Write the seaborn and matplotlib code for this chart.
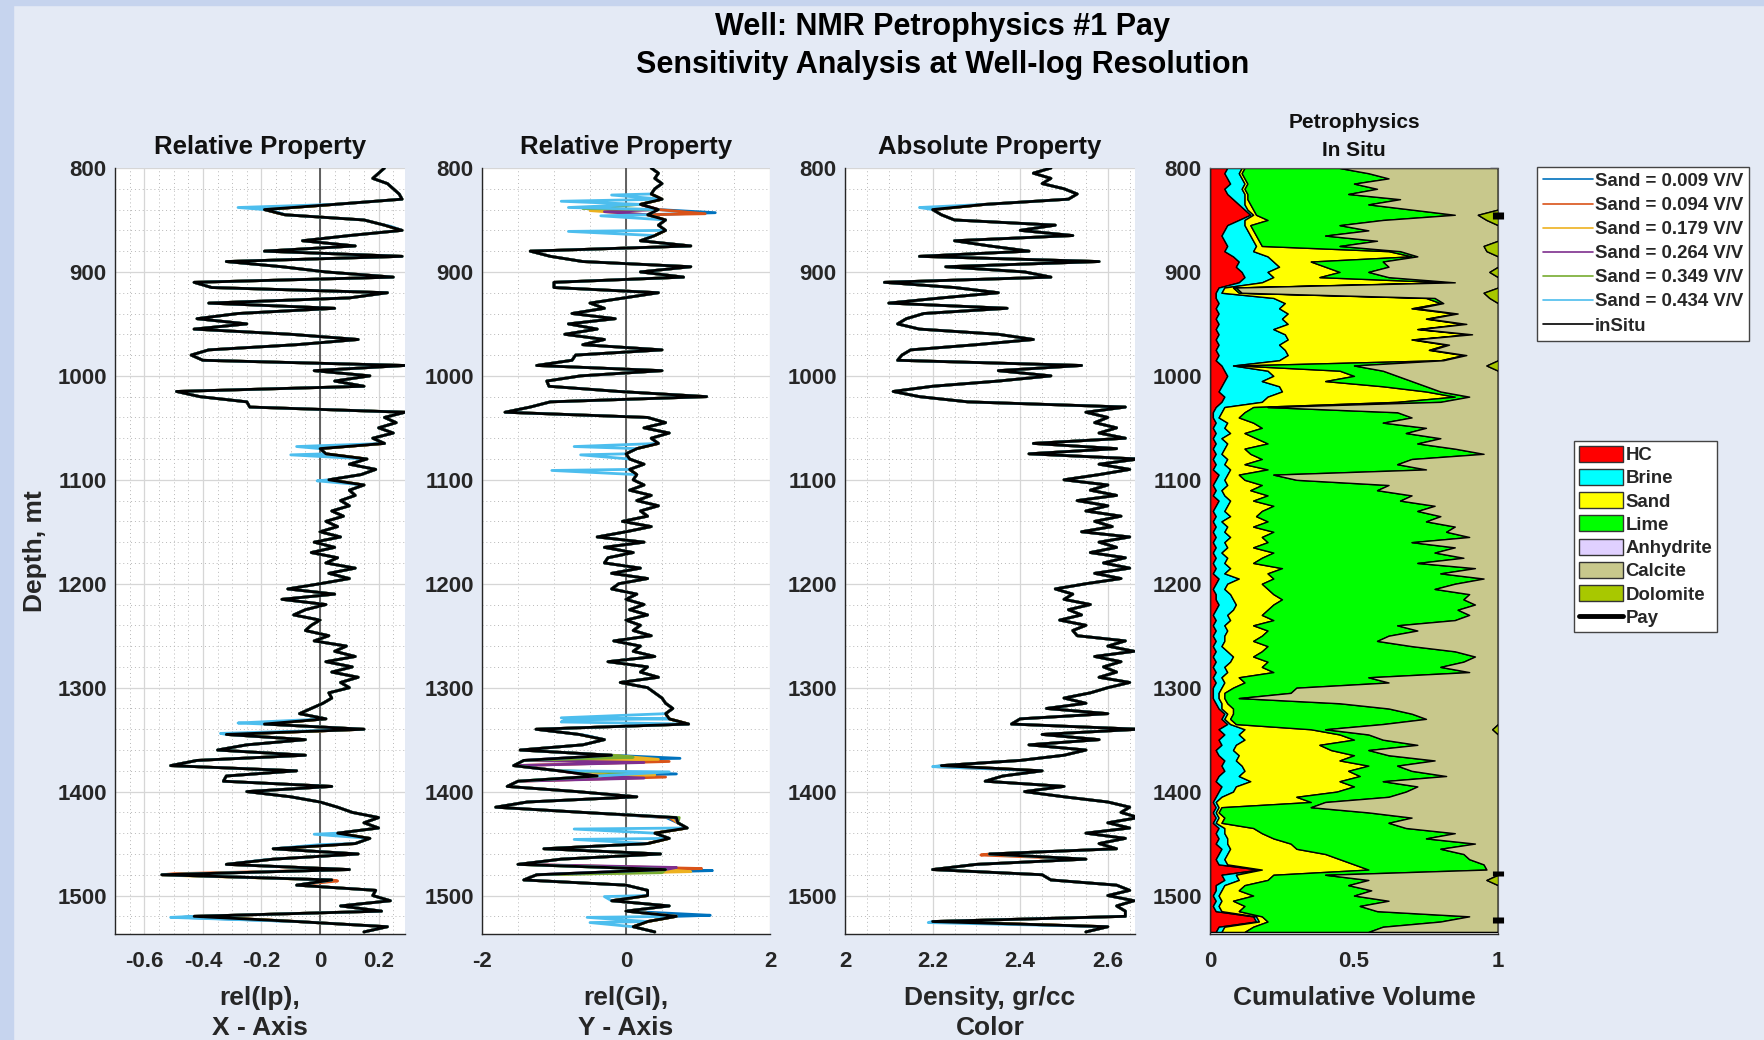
import numpy as np
import pandas as pd
import matplotlib
matplotlib.use("Agg")
import matplotlib.pyplot as plt
import seaborn as sns
from matplotlib.lines import Line2D
from matplotlib.patches import Patch, Rectangle
from matplotlib.ticker import MultipleLocator, FixedLocator

# ---------------- DATA ----------------
depth = np.arange(800, 1536, 5)  # sampling depths, m

sand_labels = ["Sand = 0.009 V/V", "Sand = 0.094 V/V", "Sand = 0.179 V/V",
               "Sand = 0.264 V/V", "Sand = 0.349 V/V", "Sand = 0.434 V/V"]

ip_insitu = [0.22,0.20,0.18,0.23,0.25,0.27,0.28,0.05,-0.19,-0.12,
             0.15,0.22,0.28,0.10,-0.06,0.12,-0.19,0.28,-0.32,-0.13,
             0.02,0.25,-0.43,-0.37,0.23,0.10,-0.38,0.05,-0.28,-0.42,
             -0.25,-0.43,-0.10,0.13,-0.08,-0.38,-0.44,-0.40,0.29,-0.02,
             0.17,0.05,0.15,-0.49,-0.41,-0.25,-0.24,0.29,0.22,0.26,
             0.20,0.25,0.18,0.22,0.00,0.02,0.16,0.10,0.19,0.14,
             0.03,0.15,0.10,0.12,0.07,0.10,0.04,0.08,0.02,0.06,
             0.00,0.07,-0.02,0.05,-0.03,0.06,0.02,0.12,0.03,0.10,
             0.00,-0.11,0.05,-0.13,0.02,-0.05,-0.09,0.00,-0.03,-0.05,
             0.03,-0.02,0.09,0.05,0.12,0.02,0.11,0.04,0.13,0.07,
             0.10,0.03,0.04,0.01,-0.03,-0.07,0.02,-0.19,0.15,-0.32,
             -0.05,-0.25,-0.35,-0.05,-0.42,-0.51,-0.08,-0.32,-0.33,0.04,
             -0.25,-0.10,0.00,0.06,0.11,0.20,0.15,0.20,0.06,0.17,
             0.12,-0.16,0.13,-0.16,-0.32,0.10,-0.54,0.04,-0.08,0.19,
             0.18,0.24,0.07,0.21,-0.43,-0.08,0.23,0.15]

# sensitivity curves: where they differ from the in-situ curve (depth: value)
ip_sens = {
    "Sand = 0.009 V/V": {1521: -0.47},
    "Sand = 0.094 V/V": {1479: -0.50, 1486: 0.06},
    "Sand = 0.179 V/V": {1481: -0.46},
    "Sand = 0.264 V/V": {},
    "Sand = 0.349 V/V": {},
    "Sand = 0.434 V/V": {838: -0.28, 843: -0.14, 856: 0.24, 1068: -0.08, 1076: -0.10,
                         1101: -0.01, 1334: -0.28, 1344: -0.34, 1441: -0.02, 1451: 0.00,
                         1466: -0.20, 1521: -0.51},
}

gi_insitu = [0.35,0.45,0.40,0.50,0.40,0.35,0.50,0.20,0.45,0.30,
             0.55,0.45,0.55,0.40,0.20,0.90,-1.33,-1.05,-0.60,0.90,
             0.20,0.80,-1.00,-1.00,0.45,-0.03,-0.50,-0.30,-0.75,-0.15,
             -0.80,-0.40,-0.85,-0.30,-0.60,0.50,-0.70,-0.75,-1.24,0.50,
             -0.63,-1.10,-1.07,-0.10,1.12,-1.05,-1.33,-1.68,0.30,0.55,
             0.25,0.60,0.35,0.45,0.15,0.00,0.05,0.25,0.05,0.15,
             0.10,0.25,0.05,0.35,0.15,0.45,0.20,0.30,-0.05,0.35,
             0.00,-0.40,0.25,-0.30,0.10,-0.25,-0.30,0.20,-0.20,0.30,
             -0.10,-0.20,0.15,0.00,0.25,0.05,0.30,0.00,0.20,0.10,
             0.35,-0.17,0.20,0.10,0.40,-0.25,0.30,0.20,0.45,-0.08,
             0.30,0.40,0.50,0.55,0.65,0.55,0.60,0.87,-1.25,-0.65,
             -0.30,-0.60,-1.47,-0.20,-1.42,-1.56,-0.93,-0.40,-1.50,-1.65,
             -0.68,0.15,-1.37,-1.81,-0.60,0.70,0.72,0.85,0.40,0.60,
             0.30,-1.14,0.48,-0.90,-1.50,0.55,-1.24,-1.42,0.00,0.30,
             0.30,-0.20,0.60,0.00,0.70,0.30,0.10,0.40]

gi_sens = {
    "Sand = 0.009 V/V": {843: 1.24, 1368: 0.75, 1383: 0.70, 1425: 0.56, 1476: 1.20, 1519: 1.17},
    "Sand = 0.094 V/V": {844: 1.10, 1371: 0.60, 1386: 0.55, 1425: 0.60, 1474: 1.05},
    "Sand = 0.179 V/V": {841: -0.50, 1369: 0.45, 1384: 0.40, 1425: 0.64, 1477: 0.90},
    "Sand = 0.264 V/V": {842: -0.30, 1372: 0.25, 1387: 0.25, 1425: 0.68, 1473: 0.70},
    "Sand = 0.349 V/V": {839: -0.60, 1367: 0.10, 1382: 0.10, 1425: 0.74, 1478: 0.50},
    "Sand = 0.434 V/V": {826: -0.20, 832: -0.90, 838: -0.80, 846: -0.35, 861: -0.80,
                         1068: -0.72, 1076: -0.63, 1091: -1.03, 1329: -0.90, 1331: -0.85,
                         1333: -0.90, 1346: -0.55, 1381: 0.60, 1436: -0.72, 1446: -0.72,
                         1501: -0.30, 1521: -0.54, 1526: -0.50},
}

rho_insitu = [2.47,2.43,2.47,2.45,2.50,2.53,2.51,2.32,2.20,2.22,
              2.25,2.48,2.40,2.52,2.25,2.33,2.42,2.17,2.58,2.23,
              2.41,2.47,2.09,2.25,2.35,2.22,2.10,2.37,2.18,2.14,
              2.12,2.17,2.35,2.43,2.30,2.15,2.13,2.12,2.54,2.35,
              2.47,2.35,2.20,2.11,2.17,2.28,2.64,2.55,2.60,2.57,
              2.62,2.58,2.64,2.43,2.62,2.42,2.67,2.58,2.65,2.58,
              2.50,2.60,2.56,2.62,2.53,2.60,2.55,2.63,2.57,2.61,
              2.54,2.65,2.58,2.62,2.56,2.64,2.59,2.65,2.57,2.63,
              2.55,2.48,2.52,2.50,2.56,2.51,2.54,2.49,2.55,2.52,
              2.53,2.64,2.60,2.66,2.57,2.63,2.59,2.62,2.58,2.65,
              2.60,2.56,2.50,2.55,2.46,2.60,2.40,2.38,2.67,2.45,
              2.58,2.42,2.55,2.50,2.40,2.22,2.45,2.36,2.32,2.50,
              2.41,2.50,2.60,2.65,2.63,2.67,2.60,2.65,2.55,2.64,
              2.58,2.62,2.33,2.55,2.30,2.20,2.45,2.47,2.62,2.65,
              2.60,2.66,2.62,2.64,2.64,2.20,2.60,2.55]

rho_sens = {
    "Sand = 0.009 V/V": {},
    "Sand = 0.094 V/V": {1376: 2.21, 1461: 2.31},
    "Sand = 0.179 V/V": {},
    "Sand = 0.264 V/V": {},
    "Sand = 0.349 V/V": {},
    "Sand = 0.434 V/V": {838: 2.17, 1376: 2.20, 1526: 2.19},
}

# cumulative volume tops (V/V)
hc_top = [.06,.05,.06,.07,.05,.06,.08,.10,.12,.14,
          .10,.06,.05,.04,.05,.06,.05,.08,.10,.09,
          .11,.12,.10,.03,.02,.02,.03,.02,.03,.02,
          .03,.02,.03,.02,.03,.02,.03,.02,.04,.05,
          .06,.05,.04,.03,.05,.04,.02,.01,.01,.02,
          .01,.02,.01,.02,.01,.02,.01,.02,.01,.03,
          .02,.01,.02,.01,.03,.02,.01,.02,.01,.02,
          .01,.02,.01,.02,.01,.02,.01,.02,.01,.03,
          .02,.01,.02,.02,.03,.02,.01,.02,.01,.02,
          .01,.02,.01,.02,.01,.02,.01,.02,.01,.02,
          .01,.01,.01,.02,.03,.05,.04,.06,.03,.05,
          .03,.04,.02,.03,.05,.04,.05,.03,.02,.04,
          .03,.02,.01,.02,.01,.02,.01,.03,.02,.03,
          .02,.04,.03,.02,.03,.17,.04,.05,.02,.02,
          .01,.02,.01,.02,.15,.16,.03,.02]
brine_top = [.11,.10,.11,.12,.11,.12,.12,.12,.13,.15,
             .12,.12,.13,.14,.15,.16,.15,.20,.22,.24,
             .20,.22,.18,.05,.04,.22,.26,.24,.27,.25,
             .27,.22,.26,.27,.24,.26,.27,.24,.08,.20,
             .22,.18,.24,.25,.20,.18,.05,.04,.03,.06,
             .05,.07,.04,.06,.05,.04,.06,.05,.07,.06,
             .05,.06,.04,.05,.07,.06,.05,.07,.04,.06,
             .05,.07,.05,.06,.04,.06,.05,.07,.05,.10,
             .06,.05,.07,.08,.09,.08,.06,.07,.05,.06,
             .05,.05,.04,.06,.08,.07,.05,.06,.04,.05,
             .04,.03,.03,.04,.04,.06,.05,.07,.12,.10,
             .12,.09,.08,.10,.09,.11,.12,.10,.14,.09,
             .08,.04,.02,.03,.02,.03,.02,.05,.05,.06,
             .06,.07,.06,.05,.06,.18,.09,.10,.05,.04,
             .03,.04,.03,.04,.16,.17,.05,.04]
sand_top = [.12,.11,.12,.13,.12,.13,.13,.14,.15,.16,
            .20,.14,.15,.16,.17,.18,.62,.70,.35,.40,
            .45,.38,.83,.08,.10,.75,.80,.70,.85,.75,
            .88,.72,.90,.70,.82,.76,.88,.80,.10,.45,
            .50,.40,.60,.75,.85,.65,.15,.12,.10,.15,
            .18,.12,.16,.20,.12,.14,.18,.12,.20,.10,
            .12,.18,.14,.20,.15,.22,.18,.16,.20,.15,
            .22,.18,.20,.15,.22,.18,.15,.25,.20,.22,
            .18,.20,.22,.25,.22,.20,.18,.22,.15,.20,
            .18,.15,.20,.18,.15,.20,.18,.22,.10,.12,
            .08,.05,.05,.06,.08,.08,.07,.09,.35,.45,
            .50,.38,.42,.50,.45,.55,.48,.52,.45,.50,
            .44,.30,.35,.04,.03,.05,.04,.15,.18,.22,
            .28,.30,.40,.45,.50,.55,.22,.20,.12,.10,
            .15,.08,.12,.10,.18,.20,.15,.12]
lime_top = [.45,.55,.62,.50,.58,.48,.66,.55,.70,.85,
            .60,.45,.55,.40,.58,.45,.66,.72,.60,.62,
            .55,.62,.85,.09,.11,.78,.81,.72,.86,.76,
            .89,.73,.91,.71,.83,.77,.89,.81,.50,.60,
            .65,.70,.75,.80,.90,.80,.20,.65,.70,.60,
            .75,.68,.80,.72,.85,.95,.70,.65,.75,.22,
            .30,.62,.58,.70,.66,.78,.72,.80,.75,.85,
            .82,.90,.70,.85,.78,.88,.72,.92,.80,.95,
            .85,.78,.90,.88,.92,.86,.90,.85,.65,.72,
            .62,.58,.70,.85,.92,.88,.80,.90,.55,.62,
            .30,.28,.10,.45,.62,.70,.75,.60,.40,.55,
            .60,.72,.55,.62,.78,.65,.70,.82,.60,.72,
            .68,.62,.40,.35,.55,.70,.62,.68,.85,.75,
            .92,.80,.88,.90,.95,.96,.40,.55,.48,.56,
            .50,.62,.52,.58,.90,.80,.60,.55]
# depths where dolomite shows at the right edge, and where calcite stops there
dolomite_depths = [845, 850, 875, 880, 900, 920, 925, 990, 1340, 1485]
calcite_top_at = [.93, .96, .95, .96, .97, .95, .97, .96, .98, .96]
pay_intervals = [(842, 849), (1476, 1481), (1521, 1526)]

lith_labels = ["HC", "Brine", "Sand", "Lime", "Anhydrite", "Calcite", "Dolomite"]

# ---------------- STYLE ----------------
BG = "#E4EAF5"
STRIP = "#C6D4EE"
sand_colors = ["#0072BD", "#D95319", "#EDB120", "#7E2F8E", "#77AC30", "#4DBEEE"]
lith_colors = ["#FF0000", "#00FFFF", "#FFFF00", "#00FF00", "#E0D0FF", "#C8C88C", "#A8C800"]

sns.set_style("white")
plt.rcParams["font.family"] = ["Liberation Sans", "DejaVu Sans"]
plt.rcParams["font.weight"] = "bold"
plt.rcParams["axes.unicode_minus"] = False

W, H = 1765, 1040
fig = plt.figure(figsize=(W / 100, H / 100), dpi=100, facecolor=BG)
fig.patches.append(Rectangle((0, 0), 13 / W, 1, transform=fig.transFigure, color=STRIP, zorder=-5))
fig.patches.append(Rectangle((0, 1 - 5 / H), 1, 5 / H, transform=fig.transFigure, color=STRIP, zorder=-5))

def px_axes(x0, x1, y0, y1):
    return fig.add_axes([x0 / W, 1 - y1 / H, (x1 - x0) / W, (y1 - y0) / H])

ax1 = px_axes(115, 405, 168, 934)
ax2 = px_axes(482, 770, 168, 934)
ax3 = px_axes(845, 1135, 168, 934)
ax4 = px_axes(1210, 1498, 168, 934)

TICK_FS = 16
LAB_FS = 19
YMAX = 1537

def series_frame(base, sens):
    rows = []
    for lab in sand_labels:
        vals = dict(zip(depth.tolist(), base))
        vals.update(sens.get(lab, {}))
        for d in sorted(vals):
            rows.append({"depth": d, "value": vals[d], "series": lab})
    return pd.DataFrame(rows)

def style_axes(ax, xlim, xticks, xlabels, xminor, zero_line=False, box=False):
    ax.set_facecolor("white")
    ax.set_xlim(*xlim)
    ax.set_ylim(YMAX, 800)
    ax.xaxis.set_major_locator(FixedLocator(xticks))
    ax.set_xticklabels(xlabels)
    ax.yaxis.set_major_locator(FixedLocator(list(range(800, 1501, 100))))
    ax.set_yticklabels([str(v) for v in range(800, 1501, 100)])
    if xminor:
        ax.xaxis.set_minor_locator(MultipleLocator(xminor))
        ax.yaxis.set_minor_locator(MultipleLocator(20))
        ax.grid(True, which="major", color="#D6D6D6", lw=0.9, ls="-", zorder=0)
        ax.grid(True, which="minor", color="#B8B8B8", lw=0.7, ls=(0, (1, 3)), zorder=0)
    ax.set_axisbelow(True)
    ax.tick_params(which="major", direction="in", length=6, width=1, colors="#262626",
                   labelsize=TICK_FS, labelcolor="#262626")
    ax.tick_params(axis="x", which="major", pad=12)
    ax.tick_params(axis="y", which="major", pad=6)
    ax.tick_params(which="minor", length=0)
    for lab in ax.get_xticklabels() + ax.get_yticklabels():
        lab.set_fontweight("bold")
    for s in ["left", "bottom"]:
        ax.spines[s].set_color("#262626")
        ax.spines[s].set_linewidth(1.0)
    for s in ["top", "right"]:
        ax.spines[s].set_visible(box)
        ax.spines[s].set_color("#555555")
    if zero_line:
        ax.axvline(0, color="#555555", lw=1.3, zorder=1.5)
    ax.set_xlabel("")
    ax.set_ylabel("")

def draw_log(ax, base, sens):
    df = series_frame(base, sens)
    sns.lineplot(data=df, x="value", y="depth", hue="series", hue_order=sand_labels,
                 palette=sand_colors, orient="y", sort=False, estimator=None,
                 legend=False, lw=2.0, ax=ax, zorder=2)
    sns.lineplot(x=base, y=depth, orient="y", sort=False, estimator=None,
                 color="black", lw=2.0, ax=ax, zorder=3)

draw_log(ax1, ip_insitu, ip_sens)
style_axes(ax1, (-0.7, 0.29), [-0.6, -0.4, -0.2, 0, 0.2], ["-0.6", "-0.4", "-0.2", "0", "0.2"], 0.05, zero_line=True)

draw_log(ax2, gi_insitu, gi_sens)
style_axes(ax2, (-2, 2), [-2, 0, 2], ["-2", "0", "2"], 0.5, zero_line=True)

draw_log(ax3, rho_insitu, rho_sens)
style_axes(ax3, (2, 2.662), [2, 2.2, 2.4, 2.6], ["2", "2.2", "2.4", "2.6"], 0.05)

# ---- panel 4: cumulative volumes ----
calcite_top = np.ones(len(depth))
for d, c in zip(dolomite_depths, calcite_top_at):
    calcite_top[depth.tolist().index(d)] = c
zeros = np.zeros(len(depth))
layers = [zeros, np.array(hc_top), np.array(brine_top), np.array(sand_top),
          np.array(lime_top), np.array(lime_top), calcite_top, np.ones(len(depth))]
for i, col in enumerate(lith_colors):
    lo, hi = layers[i], layers[i + 1]
    if np.allclose(lo, hi):
        continue
    ax4.fill_betweenx(depth, lo, hi, facecolor=col, edgecolor="black", lw=1.0, zorder=2)
for top, bot in pay_intervals:
    ax4.plot([1.0, 1.0], [top, bot], color="black", lw=8, solid_capstyle="butt",
             clip_on=False, zorder=5)
style_axes(ax4, (0, 1), [0, 0.5, 1], ["0", "0.5", "1"], None, box=True)
ax4.tick_params(which="major", right=True, direction="in")
ax4.tick_params(axis="y", which="major", labelright=False)

# ---- titles and labels ----
title_kw = dict(fontsize=18.5, fontweight="bold", color="#111111", pad=10)
ax1.set_title("Relative Property", **title_kw)
ax2.set_title("Relative Property", **title_kw)
ax3.set_title("Absolute Property", **title_kw)
ax4.set_title("Petrophysics\nIn Situ", fontsize=15, fontweight="bold", color="#111111",
              pad=9, linespacing=1.55)

xl_kw = dict(fontsize=LAB_FS, fontweight="bold", color="#262626", linespacing=1.32, labelpad=10)
ax1.set_xlabel("rel(Ip),\nX - Axis", **xl_kw)
ax2.set_xlabel("rel(GI),\nY - Axis", **xl_kw)
ax3.set_xlabel("Density, gr/cc\nColor", **xl_kw)
ax4.set_xlabel("Cumulative Volume", **xl_kw)

fig.text(35 / W, 1 - 551 / H, "Depth, mt", rotation=90, ha="center", va="center",
         fontsize=LAB_FS, fontweight="bold", color="#262626")

fig.text(943 / W, 1 - 27 / H, "Well: NMR Petrophysics #1 Pay", ha="center", va="center",
         fontsize=22, fontweight="bold", color="black")
fig.text(943 / W, 1 - 65 / H, "Sensitivity Analysis at Well-log Resolution", ha="center",
         va="center", fontsize=22, fontweight="bold", color="black")

# ---- legends ----
h1 = [Line2D([0], [0], color=c, lw=1.2) for c in sand_colors] + [Line2D([0], [0], color="black", lw=1.2)]
leg1 = fig.legend(h1, sand_labels + ["inSitu"], loc="upper left",
                  bbox_to_anchor=(1537 / W, 1 - 167 / H), frameon=True, fancybox=False,
                  edgecolor="#444444", facecolor="white", framealpha=1,
                  prop={"size": 13.4, "weight": "bold"}, handlelength=2.7, handletextpad=0.1,
                  labelspacing=0.38, borderpad=0.32, borderaxespad=0)
leg1.get_frame().set_linewidth(1.0)

h2 = [Patch(facecolor=c, edgecolor="#333333", lw=1.0) for c in lith_colors] + \
     [Line2D([0], [0], color="black", lw=3.5)]
leg2 = fig.legend(h2, lith_labels + ["Pay"], loc="upper left",
                  bbox_to_anchor=(1574 / W, 1 - 441 / H), frameon=True, fancybox=False,
                  edgecolor="#444444", facecolor="white", framealpha=1,
                  prop={"size": 13.4, "weight": "bold"}, handlelength=2.4, handleheight=0.95,
                  handletextpad=0.12, labelspacing=0.26, borderpad=0.25, borderaxespad=0)
leg2.get_frame().set_linewidth(1.0)

fig.savefig("out.png", dpi=100, facecolor=BG)
